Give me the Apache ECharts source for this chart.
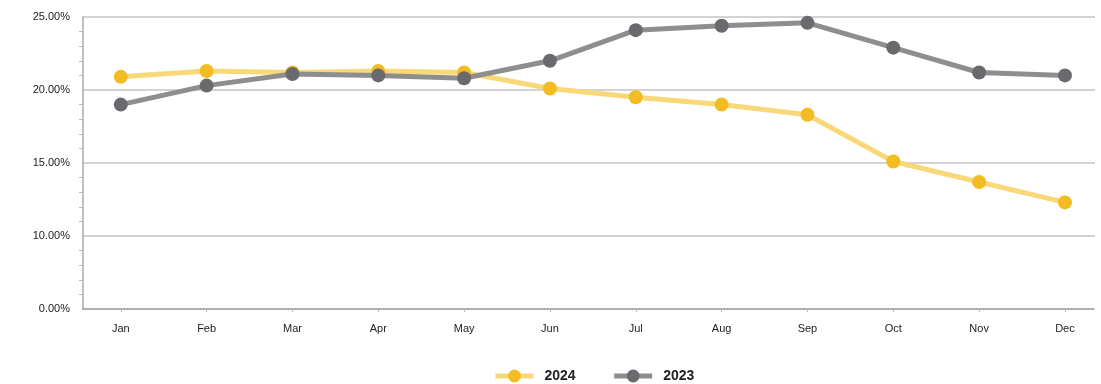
<!DOCTYPE html>
<html><head><meta charset="utf-8">
<script src="https://cdn.jsdelivr.net/npm/echarts@6/dist/echarts.min.js"></script>
<style>html,body{margin:0;padding:0;background:#fff}#c{width:1101px;height:384px}</style>
</head><body><div id="c"></div>
<script>
const months = ['Jan','Feb','Mar','Apr','May','Jun','Jul','Aug','Sep','Oct','Nov','Dec'];
const s2024 = [20.9, 21.3, 21.2, 21.3, 21.2, 20.1, 19.5, 19.0, 18.3, 15.1, 13.7, 12.3];
const s2023 = [19.0, 20.3, 21.1, 21.0, 20.8, 22.0, 24.1, 24.4, 24.6, 22.9, 21.2, 21.0];
const yTicks = [5, 10, 15, 20, 25];
const yTickLabels = ['0.00%', '10.00%', '15.00%', '20.00%', '25.00%'];

const chart = echarts.init(document.getElementById('c'), null, {renderer:'canvas'});
const idx = months.map((m,i)=>i);
chart.setOption({
  animation:false,
  textStyle:{fontFamily:'Liberation Sans, Arial, sans-serif'},
  grid:{left:83, right:6, top:17, bottom:75},
  legend:{
    top:364, left:488, itemGap:36, itemWidth:38, itemHeight:16,
    lineStyle:{width:5},
    textStyle:{fontSize:14, fontWeight:'bold', color:'#222', padding:[0,0,0,6]},
    data:['2024','2023']
  },
  xAxis:{
    type:'value', min:-0.44, max:11.35,
    axisLine:{show:true, onZero:false, lineStyle:{color:'#aaa', type:'dotted', width:2}},
    axisTick:{show:true, customValues:idx, length:3, lineStyle:{color:'#bbb'}},
    splitLine:{show:false},
    axisLabel:{customValues:idx, formatter:v=>months[Math.round(v)], color:'#222', fontSize:11, margin:14}
  },
  yAxis:{
    type:'value', min:5, max:25, interval:5,
    axisLine:{show:true, onZero:false, lineStyle:{color:'#aaa', width:1.5}},
    axisTick:{show:false},
    minorTick:{show:true, splitNumber:5, length:4, lineStyle:{color:'#bbb'}},
    splitLine:{show:true, lineStyle:{color:'#c4c4c4', width:1.5}},
    axisLabel:{color:'#222', fontSize:11, margin:13,
      formatter:v=>yTickLabels[yTicks.indexOf(v)]}
  },
  series:[
    {name:'2024', type:'line', data:s2024.map((v,i)=>[i,v]),
     symbol:'circle', symbolSize:14,
     lineStyle:{color:'#F8D878', width:5},
     itemStyle:{color:'#F3BC22'}, z:2},
    {name:'2023', type:'line', data:s2023.map((v,i)=>[i,v]),
     symbol:'circle', symbolSize:14,
     lineStyle:{color:'#8e8e8e', width:5},
     itemStyle:{color:'#6a6a6e'}, z:3}
  ]
});
</script></body></html>
